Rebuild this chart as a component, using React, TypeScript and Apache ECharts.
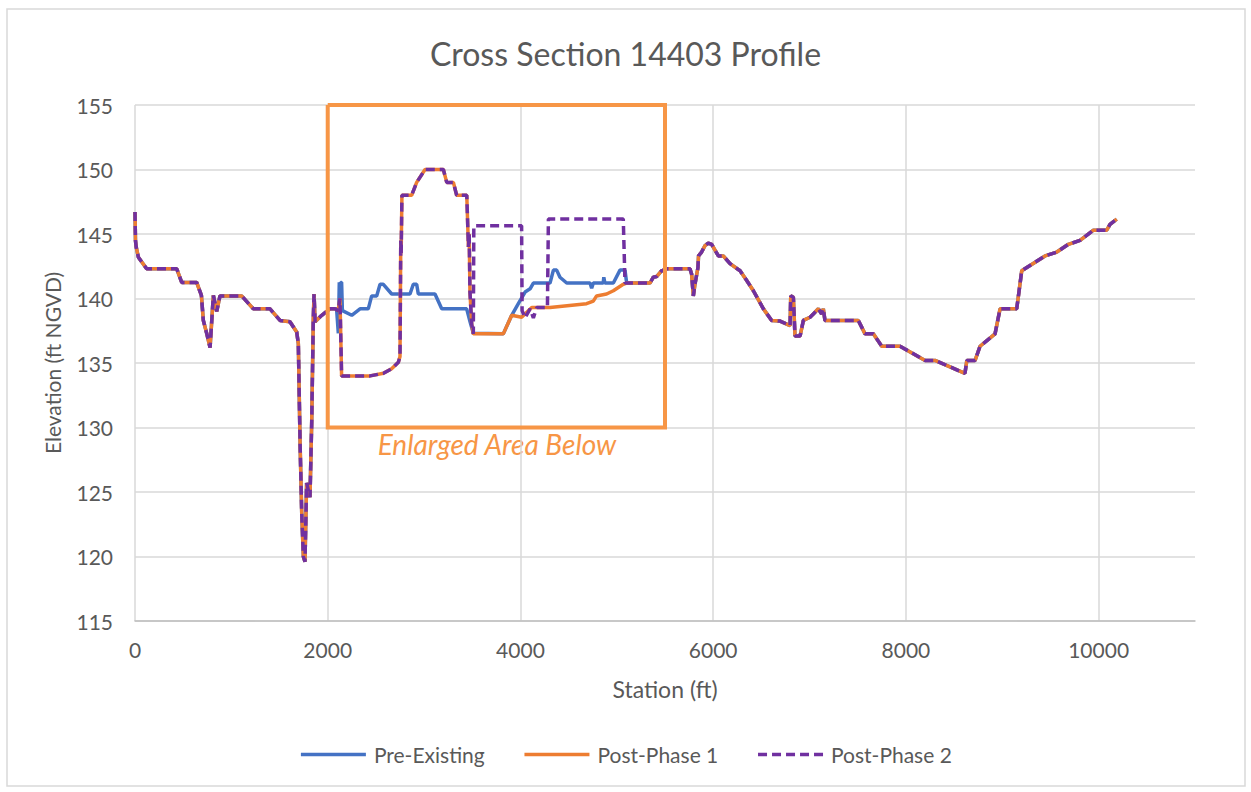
import React, { useEffect, useRef } from "react";
import * as echarts from "echarts";

const chartTitle = "Cross Section 14403 Profile";
const seriesNames = ["Pre-Existing", "Post-Phase 1", "Post-Phase 2"];
const xTicks = [0, 2000, 4000, 6000, 8000, 10000];

// Station (ft), Elevation (ft NGVD) — section shared by all three series (left)
const leftCommon: [number, number][] = [
  [0, 146.7], [5, 144.5], [12, 144.0], [35, 143.2], [121, 142.3], [433, 142.3], [485, 141.25],
  [640, 141.25], [689, 140.25], [709, 138.3], [744, 137.3], [779, 136.2], [813, 140.25],
  [848, 139.0], [882, 140.2], [1107, 140.2], [1228, 139.2], [1401, 139.2], [1505, 138.3],
  [1608, 138.2], [1678, 137.4], [1695, 136.5], [1713, 128.8], [1730, 123.4], [1747, 120.0],
  [1764, 119.6], [1781, 125.7], [1816, 124.6], [1834, 130.5], [1850, 138.3], [1858, 140.35],
  [1869, 138.2], [1938, 138.7], [2023, 139.2], [2075, 139.2],
];

// section shared by all three series (right)
const rightCommon: [number, number][] = [
  [5379, 141.65], [5413, 141.7], [5465, 142.15], [5517, 142.3], [5759, 142.3], [5776, 141.9],
  [5794, 140.2], [5811, 141.1], [5842, 142.4], [5848, 143.3], [5880, 143.6], [5915, 144.1],
  [5949, 144.3], [5984, 144.2], [6054, 143.3], [6105, 143.3], [6175, 142.7], [6279, 142.15],
  [6348, 141.4], [6417, 140.6], [6521, 139.2], [6607, 138.3], [6694, 138.25], [6798, 137.9],
  [6805, 140.2], [6832, 140.1], [6849, 137.1], [6902, 137.1], [6936, 138.3], [7005, 138.55],
  [7039, 138.8], [7091, 139.2], [7126, 138.8], [7143, 139.2], [7160, 138.3], [7506, 138.3],
  [7576, 137.26], [7662, 137.26], [7749, 136.3], [7939, 136.3], [8199, 135.2], [8302, 135.2],
  [8613, 134.2], [8632, 135.2], [8718, 135.2], [8769, 136.3], [8925, 137.26], [8977, 139.2],
  [9150, 139.2], [9202, 142.15], [9444, 143.3], [9566, 143.6], [9686, 144.2], [9807, 144.5],
  [9946, 145.3], [10084, 145.3], [10118, 145.75], [10188, 146.16],
];

// Pre-Existing middle section
const preMiddle: [number, number][] = [
  [2092, 139.2], [2110, 137.3], [2120, 141.25], [2127, 137.8], [2135, 141.25], [2144, 141.25],
  [2152, 139.06], [2249, 138.7], [2335, 139.2], [2421, 139.2], [2456, 140.2], [2508, 140.2],
  [2543, 141.1], [2577, 141.1], [2664, 140.35], [2854, 140.35], [2888, 141.1], [2923, 141.1],
  [2940, 140.35], [3113, 140.35], [3183, 139.2], [3442, 139.2], [3477, 138.2], [3511, 137.3],
  [3822, 137.26], [3909, 138.7], [3978, 139.6], [4048, 140.5], [4100, 140.75], [4134, 141.2],
  [4307, 141.2], [4342, 142.2], [4376, 142.2], [4410, 141.65], [4480, 141.2], [4722, 141.2],
  [4739, 140.8], [4756, 141.2], [4859, 141.2], [4865, 141.65], [4876, 141.2], [4964, 141.2],
  [5033, 142.2], [5085, 142.2], [5102, 141.2], [5344, 141.2],
];

// Post-Phase 1 / Post-Phase 2 shared part of the middle section (channel & berm)
const phaseMiddleA: [number, number][] = [
  [2109, 139.06], [2127, 140.0], [2144, 134.0], [2439, 134.0], [2578, 134.2], [2663, 134.55],
  [2733, 135.06], [2750, 135.5], [2758, 144.5], [2762, 143.5], [2770, 148.0], [2871, 148.0],
  [2923, 149.0], [3010, 150.0], [3200, 150.0], [3235, 149.0], [3304, 149.0], [3338, 148.0],
  [3443, 148.0], [3460, 144.0], [3468, 145.0], [3476, 140.5], [3494, 138.0], [3511, 137.26],
];

// Post-Phase 1 rest of the middle section
const phase1MiddleB: [number, number][] = [
  [3822, 137.26], [3909, 138.7], [4012, 138.55], [4117, 139.3], [4307, 139.3], [4686, 139.6],
  [4756, 139.8], [4790, 140.2], [4894, 140.35], [4964, 140.6], [5067, 141.1], [5102, 141.2],
  [5344, 141.2],
];

// Post-Phase 2 rest of the middle section
const phase2MiddleB: [number, number][] = [
  [3516, 145.64], [4012, 145.64], [4017, 139.06], [4048, 138.5], [4100, 139.2], [4134, 138.5],
  [4169, 139.3], [4280, 139.3], [4290, 146.16], [5067, 146.16], [5085, 141.2], [5102, 141.2],
  [5344, 141.2],
];

// Enlarged-area box (station range, elevation range)
const boxStations = [2000, 5500];
const boxElevations = [130, 155];
const boxLabel = "Enlarged Area Below";

export default function App() {
  const ref = useRef<HTMLDivElement>(null);

  useEffect(() => {
    document.body.style.margin = "0";
    if (!ref.current) return;
    const chart = echarts.init(ref.current, undefined, { renderer: "svg" });
    const font = "Lato, 'Open Sans', sans-serif";
    const grey = "#595959";

    const pre = [...leftCommon, ...preMiddle, ...rightCommon];
    const p1 = [...leftCommon, ...phaseMiddleA, ...phase1MiddleB, ...rightCommon];
    const p2 = [...leftCommon, ...phaseMiddleA, ...phase2MiddleB, ...rightCommon];
    const box = [
      [boxStations[0], boxElevations[1]],
      [boxStations[1], boxElevations[1]],
      [boxStations[1], boxElevations[0]],
      [boxStations[0], boxElevations[0]],
      [boxStations[0], boxElevations[1]],
    ];

    chart.setOption({
      animation: false,
      backgroundColor: "#ffffff",
      title: {
        text: chartTitle,
        left: "center",
        top: 32,
        textStyle: { fontFamily: font, fontSize: 32, fontWeight: "normal", color: grey },
      },
      grid: { left: 135, right: 56, top: 105, bottom: 171 },
      legend: {
        data: seriesNames,
        bottom: 22,
        left: "center",
        itemWidth: 65,
        itemHeight: 14,
        itemGap: 38,
        itemStyle: { opacity: 0 },
        lineStyle: { width: 3.5 },
        textStyle: { fontFamily: font, fontSize: 21, color: grey, padding: [0, 0, 0, 3] },
      },
      xAxis: {
        type: "value",
        min: 0,
        max: 11000,
        interval: 2000,
        name: "Station (ft)",
        nameLocation: "middle",
        nameGap: 56,
        nameTextStyle: { fontFamily: font, fontSize: 23, color: grey },
        axisLine: { show: true, lineStyle: { color: "#BFBFBF", width: 1.5 } },
        axisTick: { show: false },
        axisLabel: {
          fontFamily: font,
          fontSize: 21,
          color: grey,
          margin: 18,
          formatter: (v: number) => (xTicks.includes(v) ? String(v) : ""),
        },
        splitLine: { show: true, showMaxLine: false, lineStyle: { color: "#D9D9D9", width: 1.5 } },
      },
      yAxis: {
        type: "value",
        min: 115,
        max: 155,
        interval: 5,
        name: "Elevation (ft NGVD)",
        nameLocation: "middle",
        nameGap: 72,
        nameTextStyle: { fontFamily: font, fontSize: 21, color: grey },
        axisLine: { show: false },
        axisTick: { show: false },
        axisLabel: { fontFamily: font, fontSize: 21, color: grey, margin: 22 },
        splitLine: { show: true, lineStyle: { color: "#D9D9D9", width: 1.5 } },
      },
      series: [
        {
          name: seriesNames[0],
          type: "line",
          data: pre,
          symbol: "none",
          lineStyle: { color: "#4472C4", width: 3.5 },
          itemStyle: { color: "#4472C4" },
        },
        {
          name: seriesNames[1],
          type: "line",
          data: p1,
          symbol: "none",
          lineStyle: { color: "#ED7D31", width: 3.5 },
          itemStyle: { color: "#ED7D31" },
        },
        {
          name: seriesNames[2],
          type: "line",
          data: p2,
          symbol: "none",
          lineStyle: { color: "#7030A0", width: 3.5, type: [9, 5] },
          itemStyle: { color: "#7030A0" },
        },
        {
          name: "box",
          type: "line",
          data: box,
          symbol: "none",
          silent: true,
          lineStyle: { color: "#F79646", width: 4, join: "miter" },
          itemStyle: { color: "#F79646" },
        },
      ],
      graphic: [
        {
          type: "rect",
          shape: { x: 7, y: 9, width: 1238, height: 777 },
          style: { fill: "none", stroke: "#D9D9D9", lineWidth: 1.5 },
          silent: true,
          z: -1,
        },
        {
          type: "text",
          x: 497,
          y: 444,
          style: {
            text: boxLabel,
            fill: "#F79646",
            font: `italic 28px ${font}`,
            textAlign: "center",
            textVerticalAlign: "middle",
          },
        },
      ],
    });
    return () => chart.dispose();
  }, []);

  return <div ref={ref} style={{ width: 1251, height: 792 }} />;
}
